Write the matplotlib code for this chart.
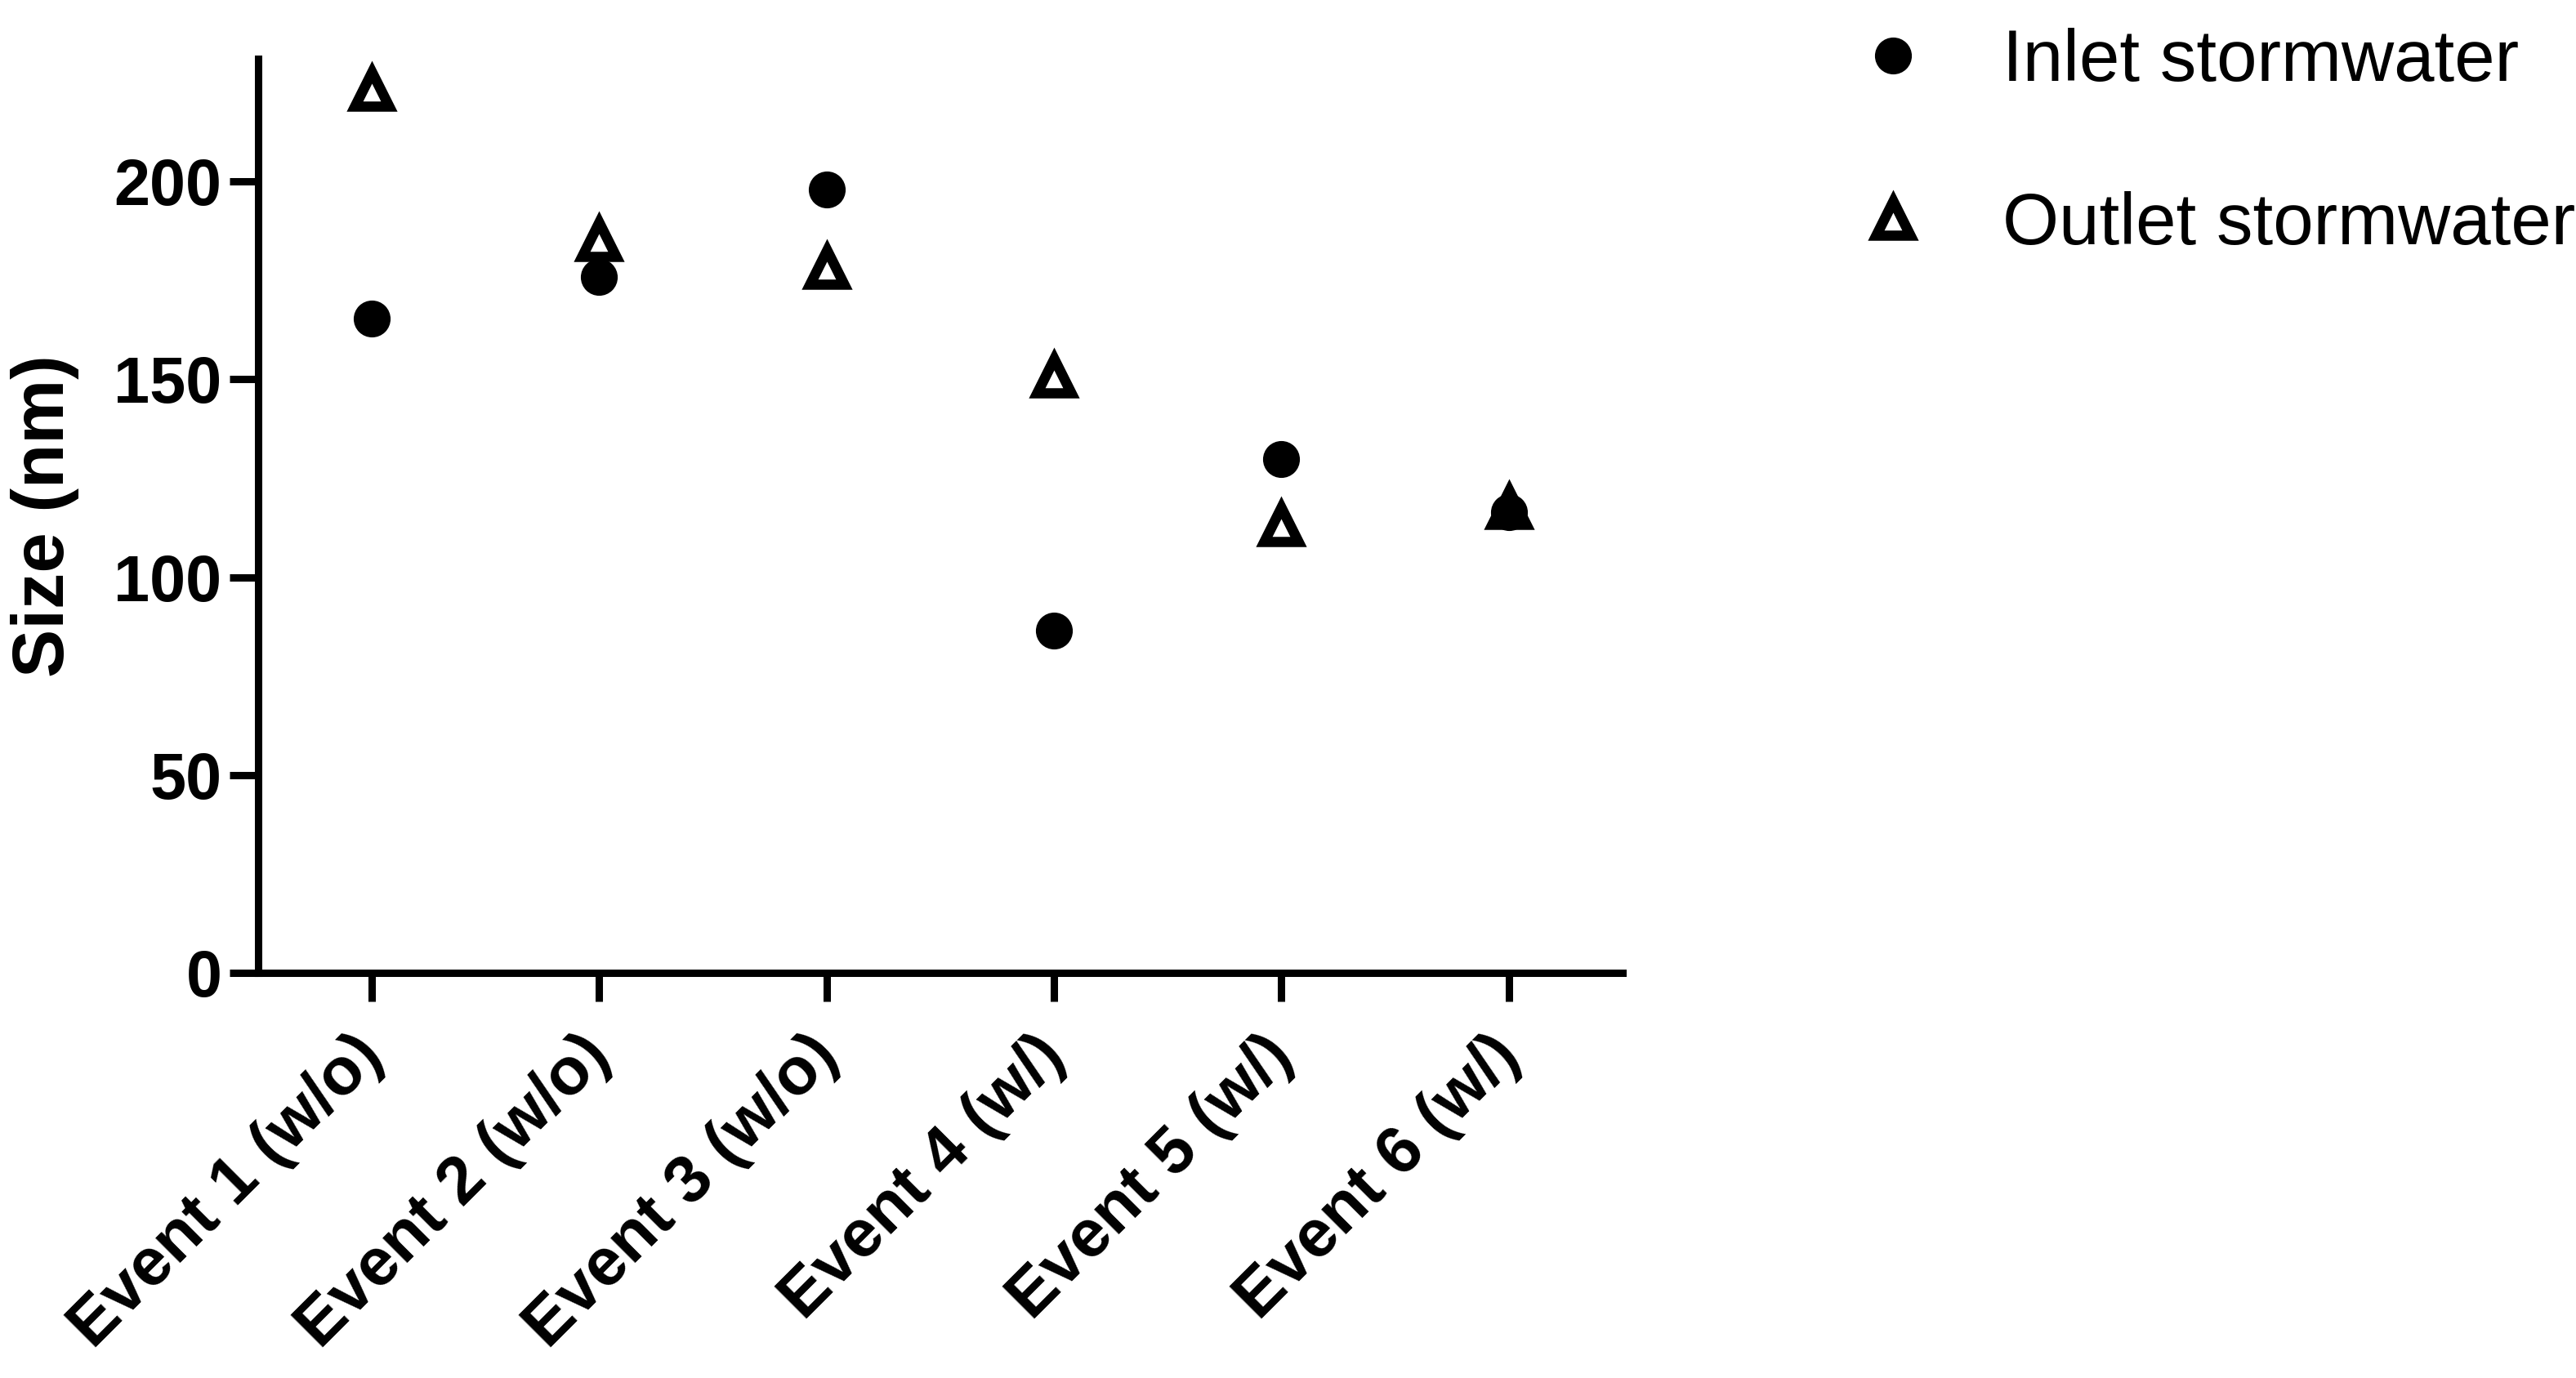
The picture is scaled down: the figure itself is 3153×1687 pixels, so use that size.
import matplotlib
matplotlib.use("Agg")
import matplotlib.pyplot as plt
import matplotlib.transforms as mtransforms

plt.rcParams['font.family'] = ['Liberation Sans', 'DejaVu Sans']

events = ["Event 1 (w/o)", "Event 2 (w/o)", "Event 3 (w/o)",
          "Event 4 (w/)", "Event 5 (w/)", "Event 6 (w/)"]
inlet = [165.4, 175.8, 197.9, 86.4, 129.9, 116.4]
outlet = [223.3, 185.4, 178.4, 150.9, 113.4, 117.6]
yticks = [0, 50, 100, 150, 200]

W, H = 3153, 1687
fig = plt.figure(figsize=(W / 100, H / 100), dpi=100)
ax = fig.add_axes([316 / W, 1 - 1191 / H, (1986 - 316) / W, (1191 - 72) / H])

x = list(range(len(events)))
l1, = ax.plot(x, inlet, linestyle='none', marker='o', markersize=31,
              markerfacecolor='black', markeredgecolor='black', markeredgewidth=1.5,
              label='Inlet stormwater', clip_on=False, zorder=3)
l2, = ax.plot(x, outlet, linestyle='none', marker='^', markersize=30,
              markerfacecolor='none', markeredgecolor='black', markeredgewidth=9,
              label='Outlet stormwater', clip_on=False, zorder=4)
l2.set_solid_joinstyle('round')
l2.set_dash_joinstyle('round')

ax.set_xlim(-0.5, 5.5)
ax.set_ylim(0, 231)
ax.set_yticks(yticks)
ax.set_yticklabels([str(v) for v in yticks])
ax.set_xticks(x)
ax.set_xticklabels(events, rotation=45, ha='right', va='top', rotation_mode='anchor')

for s in ['top', 'right']:
    ax.spines[s].set_visible(False)
for s in ['left', 'bottom']:
    ax.spines[s].set_linewidth(6.5)
    ax.spines[s].set_capstyle('projecting')

ax.tick_params(axis='both', direction='out', length=25, width=6.5, color='black')
ax.tick_params(axis='y', labelsize=57, pad=7)
ax.tick_params(axis='x', labelsize=59, pad=20)
for lab in ax.get_yticklabels() + ax.get_xticklabels():
    lab.set_fontweight('bold')

offset = mtransforms.ScaledTranslation(-25 / 100, 0, fig.dpi_scale_trans)
for lab in ax.get_xticklabels():
    lab.set_transform(lab.get_transform() + offset)

ax.set_ylabel('Size (nm)', fontsize=64, fontweight='bold')
ax.yaxis.set_label_coords(-0.131, 0.5)

leg = fig.legend(handles=[l1, l2], loc='upper left',
                 bbox_to_anchor=(2273 / W, 1 - 34 / H), frameon=False,
                 fontsize=64, numpoints=1, handlelength=1.0, handletextpad=1.0,
                 labelspacing=1.3, borderpad=0, borderaxespad=0)

fig.savefig('out.png', dpi=100)
